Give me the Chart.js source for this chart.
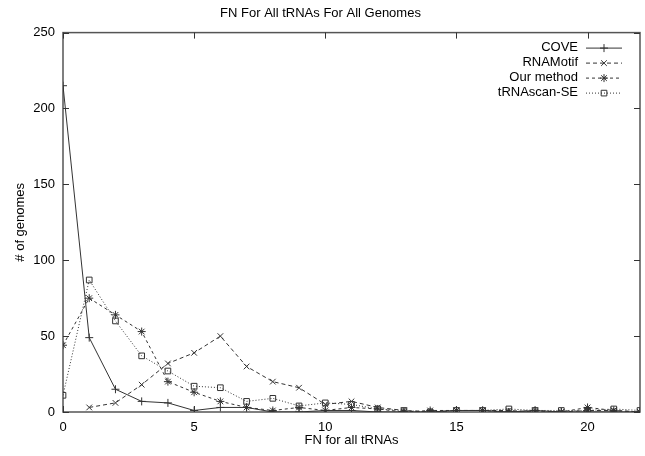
<!DOCTYPE html>
<html>
<head>
<meta charset="utf-8">
<script src="https://cdn.jsdelivr.net/npm/chart.js@4/dist/chart.umd.min.js"></script>
<style>
  html, body { margin: 0; padding: 0; background: #fff; }
  #wrap { width: 645px; height: 456px; }
</style>
</head>
<body>
<div id="wrap"><canvas id="fnChart"></canvas></div>
<script>
// FN count (x axis)
const fnValues = [0, 1, 2, 3, 4, 5, 6, 7, 8, 9, 10, 11, 12, 13, 14, 15, 16, 17, 18, 19, 20, 21, 22];

// # of genomes per FN value
const coveCounts     = [215, 49, 15, 7, 6, 1, 3, 3, 0, 0, 1, 1, 0, 0, 0, 1, 1, 0, 1, 0, 0, 0, 0];
const rnaMotifCounts = [null, 3, 6, 18, 32, 39, 50, 30, 20, 16, 5, 7, 3, 1, 0, 1, 1, 1, 0, 0, 1, 1, 0];
const ourCounts      = [44, 75, 64, 53, 20, 13, 7, 3, 1, 3, 1, 3, 2, 0, 1, 1, 1, 0, 1, 0, 3, 1, 0];
const trnaScanCounts = [11, 87, 60, 37, 27, 17, 16, 7, 9, 4, 6, 5, 2, 1, 0, 1, 1, 2, 1, 1, 1, 2, 1];

const seriesNames = ['COVE', 'RNAMotif', 'Our method', 'tRNAscan-SE'];
const yTicks = [0, 50, 100, 150, 200, 250];
const xTicks = [0, 5, 10, 15, 20];

const FONT = '"Liberation Sans", Arial, Helvetica, sans-serif';

function toPoints(arr) {
    return fnValues.map((x, i) => ({ x: x, y: arr[i] }));
}

// gnuplot-like frame: box + inward ticks on all four sides
const framePlugin = {
    id: 'frame',
    beforeDatasetsDraw(chart) {
        const { ctx, chartArea: a, scales } = chart;
        ctx.save();
        ctx.strokeStyle = '#555';
        ctx.lineWidth = 1.5;
        ctx.strokeRect(a.left, a.top, a.right - a.left, a.bottom - a.top);
        ctx.lineWidth = 1;
        ctx.strokeStyle = '#333';
        const len = 6;
        ctx.beginPath();
        xTicks.forEach(v => {
            const px = Math.round(scales.x.getPixelForValue(v)) + 0.5;
            ctx.moveTo(px, a.bottom); ctx.lineTo(px, a.bottom - len);
            ctx.moveTo(px, a.top); ctx.lineTo(px, a.top + len);
        });
        yTicks.forEach(v => {
            const py = Math.round(scales.y.getPixelForValue(v)) + 0.5;
            ctx.moveTo(a.left, py); ctx.lineTo(a.left + len, py);
            ctx.moveTo(a.right, py); ctx.lineTo(a.right - len, py);
        });
        ctx.stroke();
        ctx.restore();
    }
};

// legend inside the top right corner, text first then line sample
const keyPlugin = {
    id: 'key',
    afterDatasetsDraw(chart) {
        const { ctx, chartArea: a } = chart;
        const textRight = a.right - 62;
        const lineFrom = a.right - 54;
        const lineTo = a.right - 18;
        ctx.save();
        ctx.font = '13px ' + FONT;
        ctx.textAlign = 'right';
        ctx.textBaseline = 'middle';
        chart.data.datasets.forEach((ds, i) => {
            const y = a.top + 15 + i * 15;
            ctx.fillStyle = '#000';
            ctx.fillText(ds.label, textRight, y);
            ctx.strokeStyle = ds.borderColor;
            ctx.lineWidth = 1;
            ctx.setLineDash(ds.borderDash || []);
            ctx.beginPath();
            ctx.moveTo(lineFrom, y + 0.5);
            ctx.lineTo(lineTo, y + 0.5);
            ctx.stroke();
            ctx.setLineDash([]);
            ctx.fillStyle = 'rgba(0,0,0,0)';
            Chart.helpers.drawPoint(ctx, {
                pointStyle: ds.pointStyle,
                radius: ds.pointRadius,
                borderWidth: 1
            }, (lineFrom + lineTo) / 2, y + 0.5);
        });
        ctx.restore();
    }
};

const lineColor = '#333';
const base = {
    borderColor: lineColor,
    backgroundColor: 'rgba(0,0,0,0)',
    pointBorderColor: lineColor,
    pointBackgroundColor: 'rgba(0,0,0,0)',
    borderWidth: 1,
    pointRadius: 4,
    pointBorderWidth: 1,
    tension: 0,
    spanGaps: false,
    fill: false
};

new Chart(document.getElementById('fnChart').getContext('2d'), {
    type: 'line',
    data: {
        datasets: [
            Object.assign({}, base, { label: seriesNames[0], data: toPoints(coveCounts), pointStyle: 'cross', borderDash: [] }),
            Object.assign({}, base, { label: seriesNames[1], data: toPoints(rnaMotifCounts), pointStyle: 'crossRot', borderDash: [4, 3] }),
            Object.assign({}, base, { label: seriesNames[2], data: toPoints(ourCounts), pointStyle: 'star', borderDash: [3, 3] }),
            Object.assign({}, base, { label: seriesNames[3], data: toPoints(trnaScanCounts), pointStyle: 'rect', borderDash: [1, 2] })
        ]
    },
    options: {
        responsive: true,
        maintainAspectRatio: false,
        animation: false,
        layout: { padding: { left: 0, right: 4, top: 0, bottom: 0 } },
        plugins: {
            legend: { display: false },
            tooltip: { enabled: false },
            title: {
                display: true,
                text: 'FN For All tRNAs For All Genomes',
                color: '#000',
                font: { family: FONT, size: 13, weight: 'normal' },
                padding: { top: 6, bottom: 11 }
            }
        },
        scales: {
            x: {
                type: 'linear',
                min: 0,
                max: 22,
                grid: { display: false, drawTicks: false },
                border: { display: false },
                ticks: {
                    stepSize: 5,
                    includeBounds: false,
                    color: '#000',
                    padding: 8,
                    font: { family: FONT, size: 13 }
                },
                title: {
                    display: true,
                    text: 'FN for all tRNAs',
                    color: '#000',
                    font: { family: FONT, size: 13 },
                    padding: { top: 4, bottom: 8 }
                },
                afterFit(scale) { scale.height = 44; }
            },
            y: {
                min: 0,
                max: 250,
                grid: { display: false, drawTicks: false },
                border: { display: false },
                ticks: {
                    stepSize: 50,
                    color: '#000',
                    padding: 8,
                    font: { family: FONT, size: 13 }
                },
                title: {
                    display: true,
                    text: '# of genomes',
                    color: '#000',
                    font: { family: FONT, size: 13 },
                    padding: { top: 13, bottom: 6 }
                },
                afterFit(scale) { scale.width = 63; }
            }
        }
    },
    plugins: [framePlugin, keyPlugin]
});
</script>
</body>
</html>
